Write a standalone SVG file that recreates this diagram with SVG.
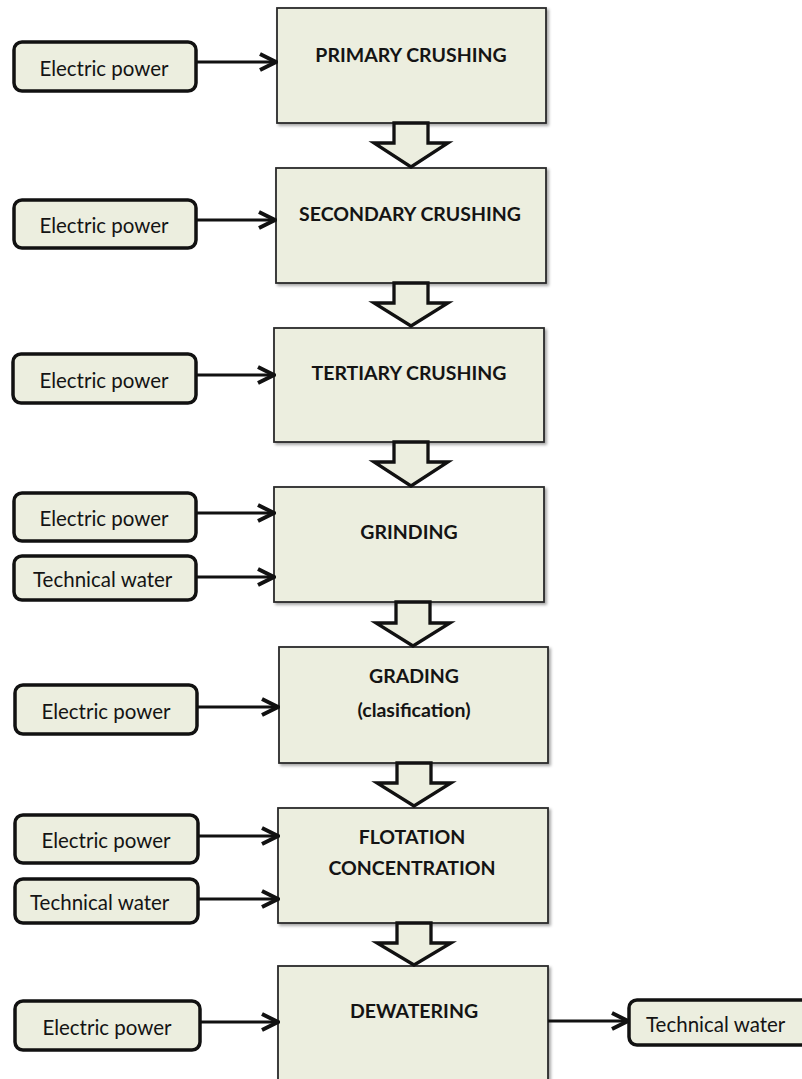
<svg xmlns="http://www.w3.org/2000/svg" width="802" height="1079" viewBox="0 0 802 1079">
<style>
.bg{fill:#ffffff}
.proc{fill:#ECEEDF;stroke:#2b2b2b;stroke-width:1.8;filter:url(#sh)}
.inp{fill:#ECEEDF;stroke:#111;stroke-width:3.5}
.blk{fill:#ECEEDF;stroke:#111;stroke-width:3.3;stroke-linejoin:miter}
.lnk{fill:none;stroke:#111;stroke-width:3;marker-end:url(#chev)}
.pt{font-family:Lato,"Open Sans","Liberation Sans",sans-serif;font-weight:bold;font-size:19.5px;fill:#141414;text-anchor:middle}
.it{font-family:Lato,"Open Sans","Liberation Sans",sans-serif;font-size:20.5px;fill:#141414}
.c{text-anchor:middle}
</style>
<defs>
<filter id="sh" x="-5%" y="-5%" width="115%" height="115%">
<feDropShadow dx="2" dy="2" stdDeviation="1.5" flood-color="#000" flood-opacity="0.35"/>
</filter>
<marker id="chev" markerUnits="userSpaceOnUse" viewBox="0 0 20 20" refX="18" refY="10" markerWidth="20" markerHeight="20" orient="auto">
<path d="M2,2 L18,10 L2,18" fill="none" stroke="#111" stroke-width="4"/>
</marker>
</defs>
<rect class="bg" x="0" y="0" width="802" height="1079"/>

<g id="primary-crushing"><rect class="proc" x="277" y="8" width="269" height="115"/><text class="pt" x="411" y="62">PRIMARY CRUSHING</text></g>
<g id="secondary-crushing"><rect class="proc" x="276" y="168" width="270" height="115"/><text class="pt" x="410" y="221">SECONDARY CRUSHING</text></g>
<g id="tertiary-crushing"><rect class="proc" x="274" y="328" width="270" height="114"/><text class="pt" x="409" y="380">TERTIARY CRUSHING</text></g>
<g id="grinding"><rect class="proc" x="274" y="487" width="270" height="115"/><text class="pt" x="409" y="539">GRINDING</text></g>
<g id="grading"><rect class="proc" x="279" y="647" width="269" height="116"/><text class="pt" x="414" y="683">GRADING</text><text class="pt" x="414" y="717">(clasification)</text></g>
<g id="flotation"><rect class="proc" x="278" y="808" width="270" height="115"/><text class="pt" x="412" y="844">FLOTATION</text><text class="pt" x="412" y="875">CONCENTRATION</text></g>
<g id="dewatering"><rect class="proc" x="278" y="966" width="270" height="125"/><text class="pt" x="414" y="1018">DEWATERING</text></g>

<g id="ep1"><rect class="inp" x="14" y="42" width="182" height="49" rx="8"/><text class="it c" x="104" y="76">Electric power</text></g>
<g id="ep2"><rect class="inp" x="14" y="200" width="182" height="48" rx="8"/><text class="it c" x="104" y="233">Electric power</text></g>
<g id="ep3"><rect class="inp" x="13" y="354" width="183" height="49" rx="8"/><text class="it c" x="104" y="388">Electric power</text></g>
<g id="ep4"><rect class="inp" x="14" y="493" width="182" height="48" rx="8"/><text class="it c" x="104" y="526">Electric power</text></g>
<g id="tw4"><rect class="inp" x="14" y="556" width="182" height="44" rx="8"/><text class="it" x="33" y="587">Technical water</text></g>
<g id="ep5"><rect class="inp" x="15" y="685" width="182" height="49" rx="8"/><text class="it c" x="106" y="719">Electric power</text></g>
<g id="ep6"><rect class="inp" x="15" y="815" width="183" height="48" rx="8"/><text class="it c" x="106" y="848">Electric power</text></g>
<g id="tw6"><rect class="inp" x="15" y="879" width="183" height="44" rx="8"/><text class="it" x="30" y="910">Technical water</text></g>
<g id="ep7"><rect class="inp" x="15" y="1001" width="185" height="49" rx="8"/><text class="it c" x="107" y="1035">Electric power</text></g>
<g id="tw-out"><rect class="inp" x="629" y="1000" width="185" height="45" rx="8"/><text class="it" x="646" y="1032">Technical water</text></g>

<g id="connectors">
<line class="lnk" x1="196" y1="62" x2="276" y2="62"/>
<line class="lnk" x1="196" y1="220" x2="275" y2="220"/>
<line class="lnk" x1="196" y1="375" x2="274" y2="375"/>
<line class="lnk" x1="196" y1="513" x2="274" y2="513"/>
<line class="lnk" x1="196" y1="577" x2="274" y2="577"/>
<line class="lnk" x1="197" y1="707" x2="278" y2="707"/>
<line class="lnk" x1="198" y1="836" x2="278" y2="836"/>
<line class="lnk" x1="198" y1="899" x2="278" y2="899"/>
<line class="lnk" x1="200" y1="1022" x2="278" y2="1022"/>
<line class="lnk" x1="548" y1="1021" x2="628" y2="1021"/>
<path class="blk" d="M394,123 H428 V143 H448 L411,167 L374,143 H394 Z"/>
<path class="blk" d="M394,283 H428 V303 H448 L411,326 L374,303 H394 Z"/>
<path class="blk" d="M394,442 H428 V462 H448 L411,486 L374,462 H394 Z"/>
<path class="blk" d="M396,602 H430 V623 H450 L413,646 L376,623 H396 Z"/>
<path class="blk" d="M397,763 H431 V783 H451 L414,806 L377,783 H397 Z"/>
<path class="blk" d="M397,923 H431 V943 H451 L414,965 L377,943 H397 Z"/>
</g>
</svg>
